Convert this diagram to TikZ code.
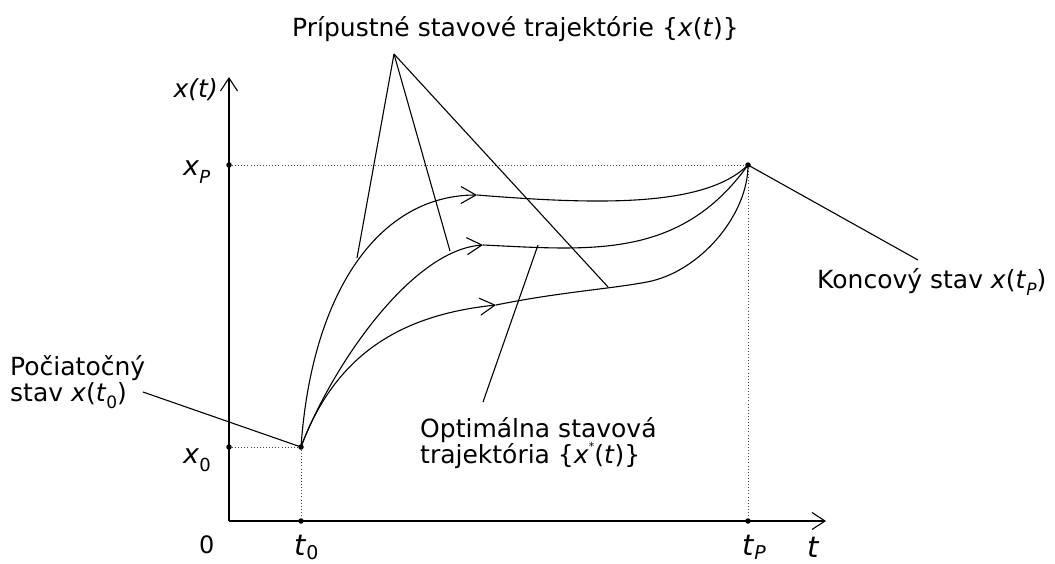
\documentclass[tikz,border=0pt]{standalone}
\usepackage{fontspec}
\setmainfont{DejaVu Sans}
\usetikzlibrary{arrows.meta}
\newcommand\fsz[1]{\fontsize{#1}{#1}\selectfont}
\newcommand\lowsub[2]{\raisebox{-0.3em}{\fontsize{#1}{#1}\selectfont #2}}
\newcommand\tinysub[2]{\raisebox{-0.15em}{\fontsize{#1}{#1}\selectfont #2}}
\newcommand\highsup[2]{\raisebox{0.5em}{\fontsize{#1}{#1}\selectfont #2}}
\begin{document}
\begin{tikzpicture}[x=1pt,y=-1pt,
  lbl/.style={inner sep=0pt, anchor=base west, font=\fsz{25}},
  axlbl/.style={inner sep=0pt, anchor=base west, font=\fsz{27}},
  tlbl/.style={inner sep=0pt, anchor=base west, font=\fsz{29}},
  curve/.style={line width=1.1pt},
  ptr/.style={line width=1.1pt},
  guide/.style={line width=0.9pt, dash pattern=on 0.9pt off 2.2pt, black!75},
  chev/.style={-{Straight Barb[length=15pt,width=17pt,line width=1.1pt]}},
  axarrow/.style={line width=1.2pt,-{Straight Barb[length=13pt,width=17pt,line width=1.1pt]}},
  dot/.style={circle, fill=black, inner sep=0pt, minimum size=5.5pt}
]
\useasboundingbox (0,0) rectangle (1055,563);
% key points
\coordinate (O) at (229,521);
\coordinate (Ytop) at (229,77);
\coordinate (Xend) at (826,521);
\node[dot] (S) at (301,447) {};
\node[dot] (E) at (748,165) {};
\node[dot] (YP) at (229,165) {};
\node[dot] (Y0) at (229,447) {};
\node[dot] (T0) at (301,521) {};
\node[dot] (TP) at (748,521) {};
% guides
\draw[guide] (YP) -- (E);
\draw[guide] (E) -- (TP);
\draw[guide] (Y0) -- (S);
\draw[guide] (S) -- (T0);
% axes
\draw[axarrow] (O) -- (Ytop);
\draw[axarrow] (O) -- (Xend);
% arrow points on curves
\coordinate (A1) at (477,195);
\coordinate (A2) at (483,245);
\coordinate (A3) at (496,305);
\coordinate (B3) at (647,282);
% top curve
\draw[curve,chev] (S.center) .. controls (312,290) and (380,195) .. (A1);
\draw[curve] (A1) .. controls (600,205) and (705,207) .. (E.center);
% middle curve (optimal)
\draw[curve,chev] (S.center) .. controls (330,370) and (410,250) .. (A2);
\draw[curve] (A2) .. controls (590,250) and (680,260) .. (E.center);
% bottom curve
\draw[curve,chev] (S.center) .. controls (335,355) and (400,315) .. (A3);
\draw[curve] (A3) .. controls (560,292) and (610,289) .. (B3)
  .. controls (700,272) and (748,215) .. (E.center);
% labels
\node[lbl] (title) at (292,36) {Prípustné stavové trajektórie \{\textit{x}(\textit{t})\}};
\coordinate (apex) at (394,54);
\coordinate (p1) at (357,258);
\coordinate (p2) at (450,251);
\coordinate (p3) at (608,287);
\draw[ptr] (apex) -- (p1);
\draw[ptr] (apex) -- (p2);
\draw[ptr] (apex) -- (p3);
\node[lbl] (ini1) at (10,375) {Počiatočný};
\node[lbl] (ini2) at (10,401) {stav \textit{x}(\textit{t}\lowsub{17}{0})};
\coordinate (iniP) at (143,392);
\draw[ptr] (iniP) -- (S.center);
\node[lbl] (fin) at (817,288) {Koncový stav \textit{x}(\textit{t}\lowsub{17}{\itshape P})};
\coordinate (finP) at (918,260);
\draw[ptr] (E.center) -- (finP);
\node[lbl] (opt1) at (420,437) {Optimálna stavová};
\node[lbl] (opt2) at (420,463) {trajektória \{\textit{x}\highsup{11}{*}(\textit{t})\}};
\coordinate (optP) at (483,402);
\coordinate (optC) at (538,245);
\draw[ptr] (optP) -- (optC);
% axis labels
\node[inner sep=0pt, anchor=base east, font=\fsz{25}\itshape] (xt) at (218,97) {x(t)};
\node[axlbl] (xP) at (183,175) {\textit{x}\lowsub{18}{\itshape P}};
\node[axlbl] (x0) at (183,463) {\textit{x}\lowsub{18}{0}};
\node[inner sep=0pt, anchor=base west, font=\fsz{24}] (zero) at (199,553) {0};
\node[tlbl] (t0) at (294,555) {\textit{t}\tinysub{19}{0}};
\node[tlbl] (tP) at (742,555) {\textit{t}\tinysub{19}{\itshape P}};
\node[tlbl] (tt) at (807,557) {\textit{t}};
\end{tikzpicture}
\end{document}
